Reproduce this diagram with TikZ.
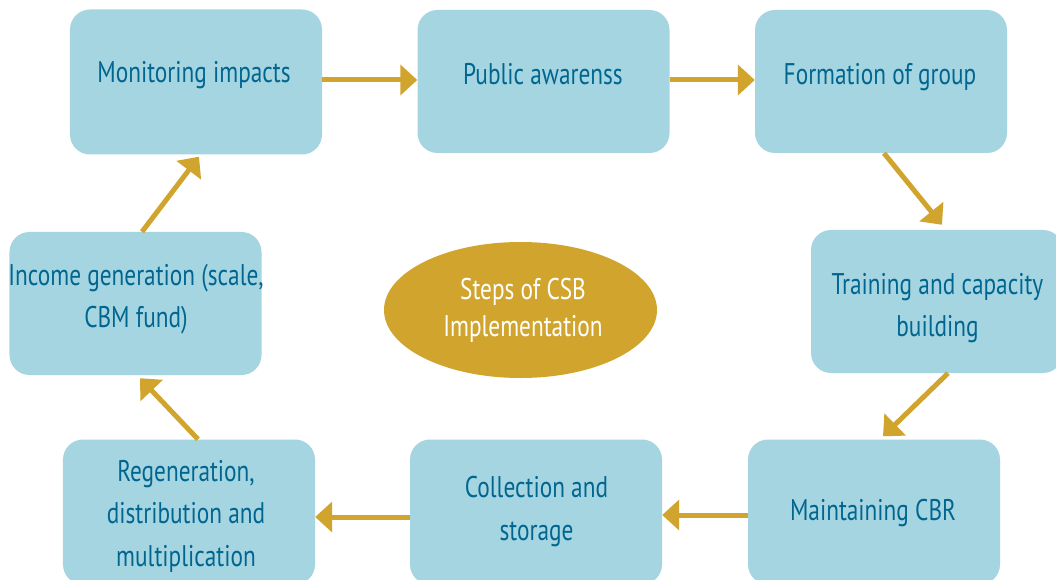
\documentclass[tikz,border=0pt]{standalone}
\usepackage{fontspec}
\setmainfont{PT Sans}[FakeStretch=0.78]
\usetikzlibrary{arrows.meta,shapes.geometric}
\definecolor{boxblue}{HTML}{A6D5E2}
\definecolor{txtblue}{HTML}{00668F}
\definecolor{gold}{HTML}{D1A52D}
\begin{document}
\begin{tikzpicture}[x=1bp,y=-1bp,
  stepbox/.style={fill=boxblue, rounded corners=20bp, inner sep=0pt,
    minimum width=252bp, minimum height=143bp},
  lbl/.style={anchor=north, text=txtblue, align=center, inner sep=0pt,
    font=\fontsize{30}{43}\selectfont},
  flow/.style={draw=gold, line width=5bp, -{Triangle[length=17bp,width=30bp]}},
  hub/.style={ellipse, fill=gold, inner sep=0pt, minimum width=273bp, minimum height=136bp},
  hublbl/.style={anchor=north, text=white, align=center, inner sep=0pt,
    font=\fontsize{30}{37.5}\selectfont}]
\clip (0,0) rectangle (1056,580);
\fill[white] (0,0) rectangle (1056,580);
% boxes
\node[stepbox, minimum height=145bp] (mon) at (196,82) {};
\node[stepbox] (pub) at (543.5,81.5) {};
\node[stepbox] (form) at (881,81.5) {};
\node[stepbox] (train) at (937,301.5) {};
\node[stepbox, minimum height=145bp] (maint) at (874,512) {};
\node[stepbox, minimum height=145bp] (coll) at (536,512) {};
\node[stepbox, minimum height=145bp] (regen) at (189,512) {};
\node[stepbox] (inc) at (135.5,303.5) {};
\node[hub] (hub) at (520.5,310) {};
% texts
\node[lbl] (mont) at (194,52.6) {\strut Monitoring impacts};
\node[lbl] (pubt) at (543,53.9) {\strut Public awarenss};
\node[lbl] (formt) at (880,53.9) {\strut Formation of group};
\node[lbl] (traint) at (937.5,263.9) {\strut Training and capacity\\building};
\node[lbl] (maintt) at (873,490.6) {\strut Maintaining CBR};
\node[lbl] (collt) at (536.5,467.4) {\strut Collection and\\storage};
\node[lbl] (regent) at (186,450.9) {\strut Regeneration,\\distribution and\\multiplication};
\node[lbl] (inct) at (136,254.9) {\strut Income generation (scale,\\CBM fund)};
\node[hublbl] (hubt) at (523,273) {\strut Steps of CSB\\Implementation};
% connectors
\draw[flow] ([yshift=2bp]mon.east) -- ([yshift=1.5bp]pub.west);
\draw[flow] ([yshift=1.5bp]pub.east) -- ([yshift=1.5bp]form.west);
\draw[flow] ([xshift=3bp]form.south) -- ([xshift=5bp,yshift=5bp]train.north);
\draw[flow] ([xshift=11bp]train.south) -- ([xshift=9bp,yshift=3bp]maint.north);
\draw[flow] ([yshift=-3bp]maint.west) -- ([yshift=-3bp]coll.east);
\draw[flow] ([yshift=-5bp]coll.west) -- ([yshift=-5bp]regen.west -| regen.east);
\draw[flow] ([xshift=9bp]regen.north) -- ([xshift=4.5bp,yshift=-3bp]inc.south);
\draw[flow] ([xshift=6.5bp]inc.north) -- ([xshift=3bp,yshift=-2bp]mon.south);
\end{tikzpicture}
\end{document}
